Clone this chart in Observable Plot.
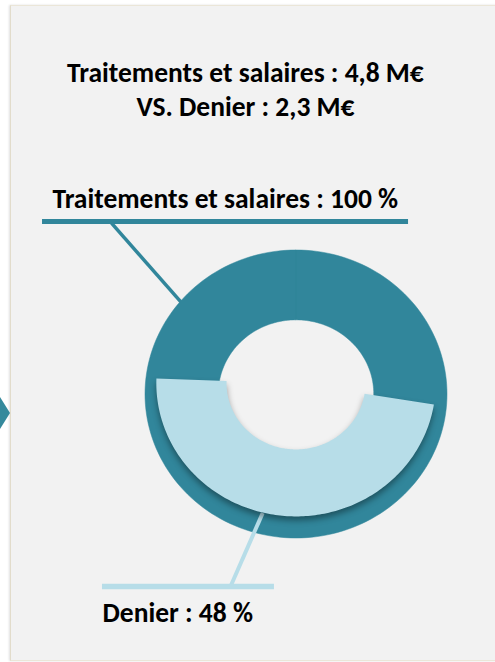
<!DOCTYPE html>
<html><head><meta charset="utf-8">
<script src="https://cdn.jsdelivr.net/npm/d3@7"></script>
<script src="https://cdn.jsdelivr.net/npm/@observablehq/plot@0.6"></script>
<style>
html,body{margin:0;padding:0;background:#fff;width:495px;height:662px;overflow:hidden}
#panel{position:absolute;left:10px;top:5px;width:495px;height:654px;background:#f2f2f2;border-left:1.5px solid #e2dccb;border-top:1.5px solid #ebe6d8;border-bottom:1.5px solid #ebe6d8;box-shadow:-1px 0 2px rgba(0,0,0,0.12)}
#arrow{position:absolute;left:0;top:397px;width:10px;height:32px;background:#35899c;clip-path:polygon(0 0,100% 50%,0 100%)}
#chart{position:absolute;left:0;top:0}
</style></head><body>
<div id="panel"></div><div id="arrow"></div><div id="chart"></div>
<script>
// ---- data ----
const categories = ["Traitements et salaires", "Denier"];
const amounts = [4.8, 2.3];          // M€
const percents = [100, 48];          // % of Traitements et salaires
const colors = ["#31869b", "#b7dde8"];

// ---- ring geometry (unit donut space) ----
const rings = [
  {cx: 0, cy: 0, ro: 1, ri: 0.515, endAngle: 360},
  {cx: 0, cy: 0.075, ro: 0.925, ri: 0.46, endAngle: 272}
];
function arcPoints(i) {
  const g = rings[i];
  const span = percents[i] / 100 * 360;
  const start = g.endAngle - span;
  const n = 180, pts = [];
  for (let k = 0; k <= n; k++) {
    const a = (start + span * k / n) * Math.PI / 180;
    pts.push({
      xo: g.cx + g.ro * Math.sin(a), yo: g.cy + g.ro * Math.cos(a),
      xi: g.cx + g.ri * Math.sin(a), yi: g.cy + g.ri * Math.cos(a)
    });
  }
  return pts;
}
function ringPoint(i, deg) {
  const g = rings[i], a = deg * Math.PI / 180;
  return {x: g.cx + g.ro * Math.sin(a), y: g.cy + g.ro * Math.cos(a)};
}
const fr = v => String(v).replace(".", ",");

const p0 = ringPoint(0, 310), p1 = ringPoint(1, 194);
const font = "Calibri, Carlito, Lato, sans-serif";
const txt = {x: "x", y: "y", text: "t", lineAnchor: "bottom", fontSize: 27.5, fontWeight: "bold", fill: "#000"};

const plot = Plot.plot({
  width: 495, height: 662, margin: 0,
  x: {domain: [-1, 1], range: [145, 447], axis: null},
  y: {domain: [-1, 1], range: [538, 250], axis: null},
  style: {background: "transparent", fontFamily: font, overflow: "visible"},
  marks: [
    Plot.area(arcPoints(0), {x1: "xo", y1: "yo", x2: "xi", y2: "yi", fill: colors[0], stroke: colors[0], strokeWidth: 0.5}),
    Plot.link([{x1: -1.225, y1: 1.19, x2: p0.x, y2: p0.y}], {x1: "x1", y1: "y1", x2: "x2", y2: "y2", stroke: colors[0], strokeWidth: 3.5}),
    Plot.link([{x1: -0.437, y1: -1.333, x2: p1.x, y2: p1.y}], {x1: "x1", y1: "y1", x2: "x2", y2: "y2", stroke: colors[1], strokeWidth: 4}),
    Plot.area(arcPoints(1), {x1: "xo", y1: "yo", x2: "xi", y2: "yi", fill: colors[1]}),
    Plot.ruleY([{y: 1.201, x1: -1.682, x2: 0.742}], {y: "y", x1: "x1", x2: "x2", stroke: colors[0], strokeWidth: 5}),
    Plot.ruleY([{y: -1.333, x1: -1.285, x2: -0.146}], {y: "y", x1: "x1", x2: "x2", stroke: colors[1], strokeWidth: 5.5}),
    Plot.text([
      {x: -0.338, y: 2.1667, t: `${categories[0]} : ${fr(amounts[0])} M€`},
      {x: -0.338, y: 1.9375, t: `VS. ${categories[1]} : ${fr(amounts[1])} M€`}
    ], {...txt, textAnchor: "middle"}),
    Plot.text([
      {x: -1.616, y: 1.2986, t: `${categories[0]} : ${percents[0]} %`},
      {x: -1.285, y: -1.583, t: `${categories[1]} : ${percents[1]} %`}
    ], {...txt, textAnchor: "start"})
  ]
});
const areas = plot.querySelectorAll('g[aria-label="area"]');
if (areas[1]) areas[1].style.filter = "drop-shadow(0px 4px 3px rgba(0,0,0,0.38))";
document.getElementById("chart").appendChild(plot);
</script>
</body></html>
